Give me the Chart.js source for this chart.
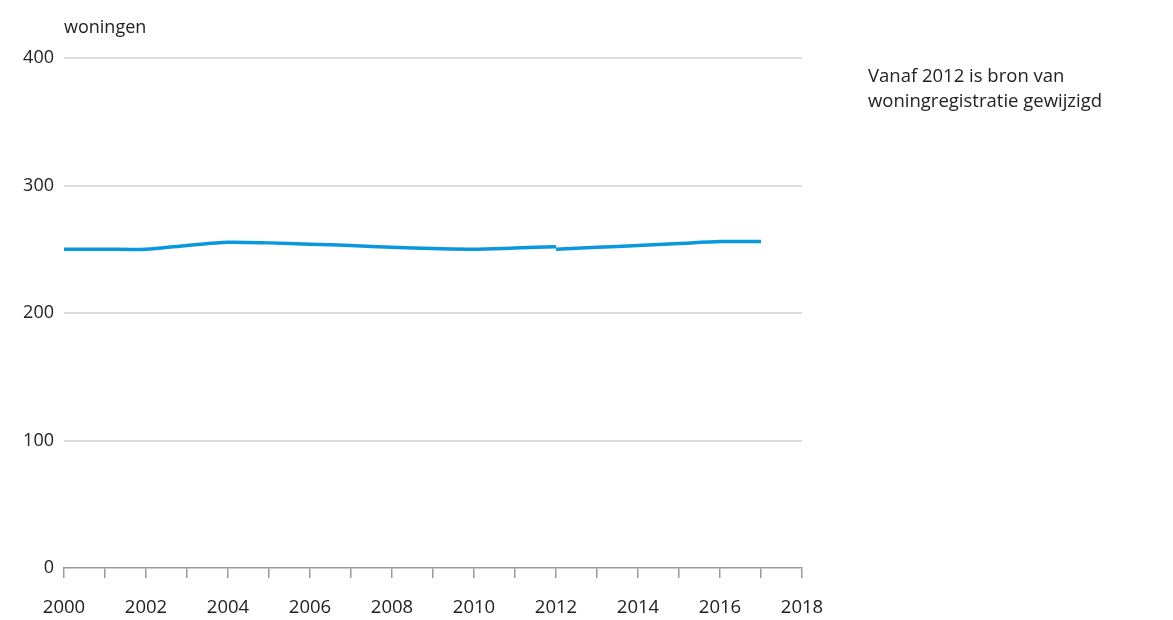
<!DOCTYPE html>
<html>
<head>
<meta charset="utf-8">
<script src="https://cdn.jsdelivr.net/npm/chart.js@4"></script>
<style>
  html, body { margin: 0; padding: 0; background: #fff; }
  #wrap { position: relative; width: 1173px; height: 620px; }
  #c { position: absolute; left: 0; top: 0; }
  .txt { position: absolute; font-family: "Open Sans", sans-serif; color: #222; white-space: nowrap; }
</style>
</head>
<body>
<div id="wrap">
  <canvas id="c" width="1173" height="620"></canvas>
  <div class="txt" id="unit" style="left:64px; top:14px; font-size:18px;">woningen</div>
  <div class="txt" id="note" style="left:868px; top:62px; font-size:18.5px; line-height:25px;">Vanaf 2012 is bron van<br>woningregistratie gewijzigd</div>
</div>
<script>
// Data
const yearsOld = [2000, 2001, 2002, 2003, 2004, 2005, 2006, 2007, 2008, 2009, 2010, 2011, 2012];
const valuesOld = [250, 250, 250, 253, 255.5, 255, 254, 253, 251.5, 250.5, 250, 251, 252];
const yearsNew = [2012, 2013, 2014, 2015, 2016, 2017];
const valuesNew = [250, 251.5, 253, 254.5, 256, 256];
const yTicks = [0, 100, 200, 300, 400];
const xMin = 2000, xMax = 2018;

const toPts = (xs, ys) => xs.map((x, i) => ({ x: x, y: ys[i] }));
const lineColor = '#0a98dc';

new Chart(document.getElementById('c'), {
  type: 'line',
  data: {
    datasets: [
      { label: 'oud', data: toPts(yearsOld, valuesOld), borderColor: lineColor, borderWidth: 3.5, pointRadius: 0, tension: 0.25, fill: false },
      { label: 'nieuw', data: toPts(yearsNew, valuesNew), borderColor: lineColor, borderWidth: 3.5, pointRadius: 0, tension: 0.25, fill: false }
    ]
  },
  options: {
    responsive: false,
    animation: false,
    devicePixelRatio: 1,
    layout: { padding: { left: 0, right: 371, top: 58, bottom: 0 } },
    plugins: { legend: { display: false }, tooltip: { enabled: false }, title: { display: false } },
    scales: {
      x: {
        type: 'linear',
        min: xMin, max: xMax,
        afterFit: (s) => { s.height = 52; },
        afterBuildTicks: (s) => {
          const t = [];
          for (let v = xMin; v <= xMax; v++) t.push({ value: v });
          s.ticks = t;
        },
        ticks: {
          autoSkip: false, maxRotation: 0, padding: 19,
          color: '#222',
          font: { family: '"Open Sans", sans-serif', size: 18.5 },
          callback: (v) => (v % 2 === 0 ? String(v) : '')
        },
        grid: { drawOnChartArea: false, drawTicks: true, tickLength: 10, color: '#999', lineWidth: 1.5 },
        border: { display: true, color: '#999', width: 1.5 }
      },
      y: {
        min: 0, max: 400,
        afterFit: (s) => { s.width = 64; },
        afterBuildTicks: (s) => { s.ticks = yTicks.map(v => ({ value: v })); },
        ticks: {
          padding: 10,
          color: '#222',
          font: { family: '"Open Sans", sans-serif', size: 18 }
        },
        grid: { drawTicks: false, color: (ctx) => ctx.tick && ctx.tick.value === 0 ? 'rgba(0,0,0,0)' : '#dcdcdc', lineWidth: 2 },
        border: { display: false }
      }
    }
  }
});
</script>
</body>
</html>
